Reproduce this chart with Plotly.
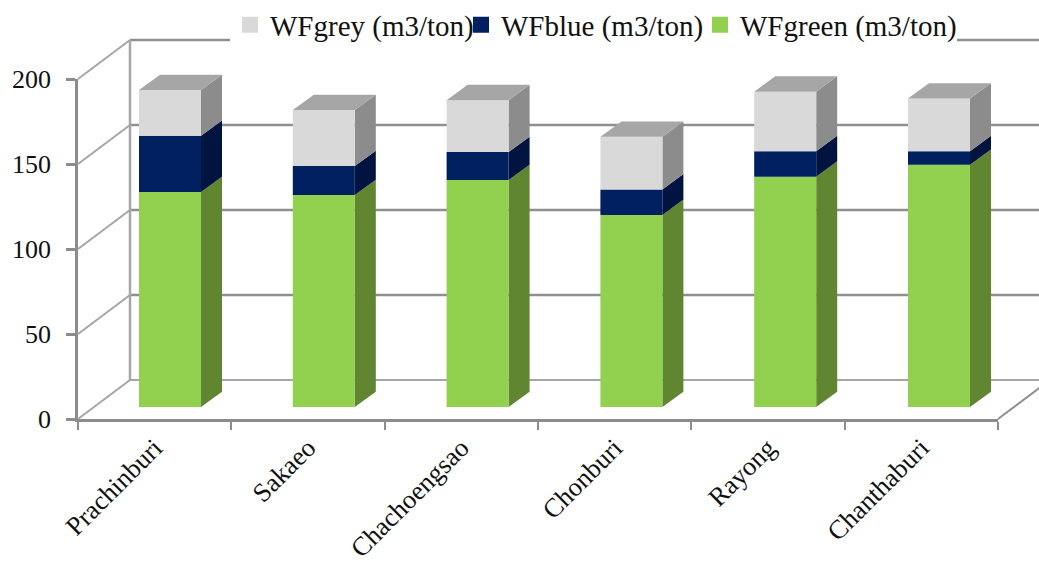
import plotly.graph_objects as go

# Water footprint per province, m3/ton
provinces = ["Prachinburi", "Sakaeo", "Chachoengsao", "Chonburi", "Rayong", "Chanthaburi"]
wf_green = [126.5, 124.7, 133.5, 113.0, 135.5, 142.5]
wf_blue = [33.0, 17.0, 16.5, 15.0, 15.0, 8.0]
wf_grey = [27.0, 33.0, 30.5, 31.0, 35.0, 31.0]
y_ticks = [0, 50, 100, 150, 200]

FONT = "Liberation Serif"
WIDTH, HEIGHT = 1039, 567
LEFT, RIGHT, BOTTOM, TOP = 78, 998, 419, 79   # visible axis frame in page pixels
PX_X = (RIGHT - LEFT) / 6      # pixels per category
PX_Y = (BOTTOM - TOP) / 200    # pixels per value unit

# Oblique projection: offsets of the back wall and of the bar columns, in axis units
WALL_DX, WALL_DY = 52 / PX_X, 39 / PX_Y
BAR_DX, BAR_DY = 21 / PX_X, 15.3 / PX_Y
BAR_LEFT = 61 / PX_X
BAR_WIDTH = 62 / PX_X
BAR_LIFT = 12 / PX_Y
BAR_PITCH = 153.8 / PX_X

WALL_LINE = "#a6a6a6"
GRID_LINE = "#8f8f8f"
AXIS_LINE = "#8c8c8c"


def polygons(faces):
    xs, ys = [], []
    for face in faces:
        xs += [p[0] for p in face] + [face[0][0], None]
        ys += [p[1] for p in face] + [face[0][1], None]
    return xs, ys


def add_poly(fig, faces, color):
    xs, ys = polygons(faces)
    fig.add_trace(go.Scatter(x=xs, y=ys, mode="lines", fill="toself", fillcolor=color,
                             line=dict(width=0, color=color), showlegend=False,
                             hoverinfo="skip", xaxis="x2", yaxis="y2"))


def add_line(fig, xs, ys, color, width):
    fig.add_trace(go.Scatter(x=xs, y=ys, mode="lines", line=dict(color=color, width=width),
                             showlegend=False, hoverinfo="skip", xaxis="x2", yaxis="y2"))


fig = go.Figure()

# Legend entries sit on the visible axes
for name, color, entry_width in [("WFgrey (m3/ton)", "#d9d9d9", 186),
                                 ("WFblue (m3/ton)", "#002060", 194),
                                 ("WFgreen (m3/ton)", "#92d050", 212)]:
    fig.add_trace(go.Scatter(x=[None], y=[None], mode="markers", name=name, legendwidth=entry_width,
                             marker=dict(symbol="square", size=16, color=color)))

# Back wall, left wall and floor live on a full-page overlay with the same scale
x_back_end = 6 + WALL_DX
for v in y_ticks:
    color = WALL_LINE if v == 0 else GRID_LINE
    add_line(fig, [WALL_DX, x_back_end], [v + WALL_DY, v + WALL_DY], color, 2.5 if v else 2)
    add_line(fig, [0, WALL_DX], [v, v + WALL_DY], WALL_LINE, 2)
add_line(fig, [WALL_DX, WALL_DX], [WALL_DY, 200 + WALL_DY], WALL_LINE, 2.5)
add_line(fig, [6, x_back_end], [0, WALL_DY], GRID_LINE, 2)

# Columns: front faces, side faces and the cap on the top segment
series = [
    (wf_green, "#92d050", "#618632"),
    (wf_blue, "#002060", "#00143f"),
    (wf_grey, "#d9d9d9", "#8c8c8c"),
]
base = [BAR_LIFT] * len(provinces)
for values, front, side in series:
    front_faces, side_faces = [], []
    for i, v in enumerate(values):
        x0 = i * BAR_PITCH + BAR_LEFT
        x1 = x0 + BAR_WIDTH
        y0 = base[i]
        y1 = y0 + v
        front_faces.append([(x0, y0), (x1, y0), (x1, y1), (x0, y1)])
        side_faces.append([(x1, y0), (x1 + BAR_DX, y0 + BAR_DY),
                           (x1 + BAR_DX, y1 + BAR_DY), (x1, y1)])
        base[i] = y1
    add_poly(fig, side_faces, side)
    add_poly(fig, front_faces, front)

cap_faces = []
for i, top in enumerate(base):
    x0 = i * BAR_PITCH + BAR_LEFT
    x1 = x0 + BAR_WIDTH
    cap_faces.append([(x0, top), (x1, top), (x1 + BAR_DX, top + BAR_DY), (x0 + BAR_DX, top + BAR_DY)])
add_poly(fig, cap_faces, "#a6a6a6")

fig.update_layout(
    width=WIDTH, height=HEIGHT,
    margin=dict(l=0, r=0, t=0, b=0, autoexpand=False),
    paper_bgcolor="white", plot_bgcolor="rgba(0,0,0,0)",
    font=dict(family=FONT, size=27, color="#111111"),
    showlegend=True,
    legend=dict(orientation="h", x=230 / WIDTH, xanchor="left", y=1 - 25 / HEIGHT, yanchor="middle",
                bgcolor="white", font=dict(family=FONT, size=29), traceorder="normal",
                itemwidth=30, entrywidthmode="pixels", tracegroupgap=0),
    xaxis=dict(domain=[LEFT / WIDTH, RIGHT / WIDTH], range=[0, 6], tickmode="array",
               tickvals=[i + 0.5 for i in range(len(provinces))], ticktext=provinces,
               tickangle=-45, ticks="", showgrid=False, zeroline=False,
               showline=True, linecolor=AXIS_LINE, linewidth=2.5,
               tickfont=dict(family=FONT, size=26.5),
               minor=dict(tickmode="array", tickvals=list(range(7)), ticks="outside",
                          ticklen=8, tickwidth=2, tickcolor=AXIS_LINE, showgrid=False)),
    yaxis=dict(domain=[1 - BOTTOM / HEIGHT, 1 - TOP / HEIGHT], range=[0, 200],
               tickmode="array", tickvals=y_ticks, ticks="outside", ticklabelstandoff=10,
               ticklen=9, tickwidth=2.5, tickcolor=AXIS_LINE, showgrid=False, zeroline=False,
               showline=True, linecolor=AXIS_LINE, linewidth=2.5,
               tickfont=dict(family=FONT, size=26)),
    xaxis2=dict(domain=[0, 1], range=[-LEFT / PX_X, (WIDTH - LEFT) / PX_X], visible=False,
                anchor="y2", fixedrange=True),
    yaxis2=dict(domain=[0, 1], range=[-(HEIGHT - BOTTOM) / PX_Y, BOTTOM / PX_Y], visible=False,
                anchor="x2", fixedrange=True),
)

fig.write_html("out.html")
